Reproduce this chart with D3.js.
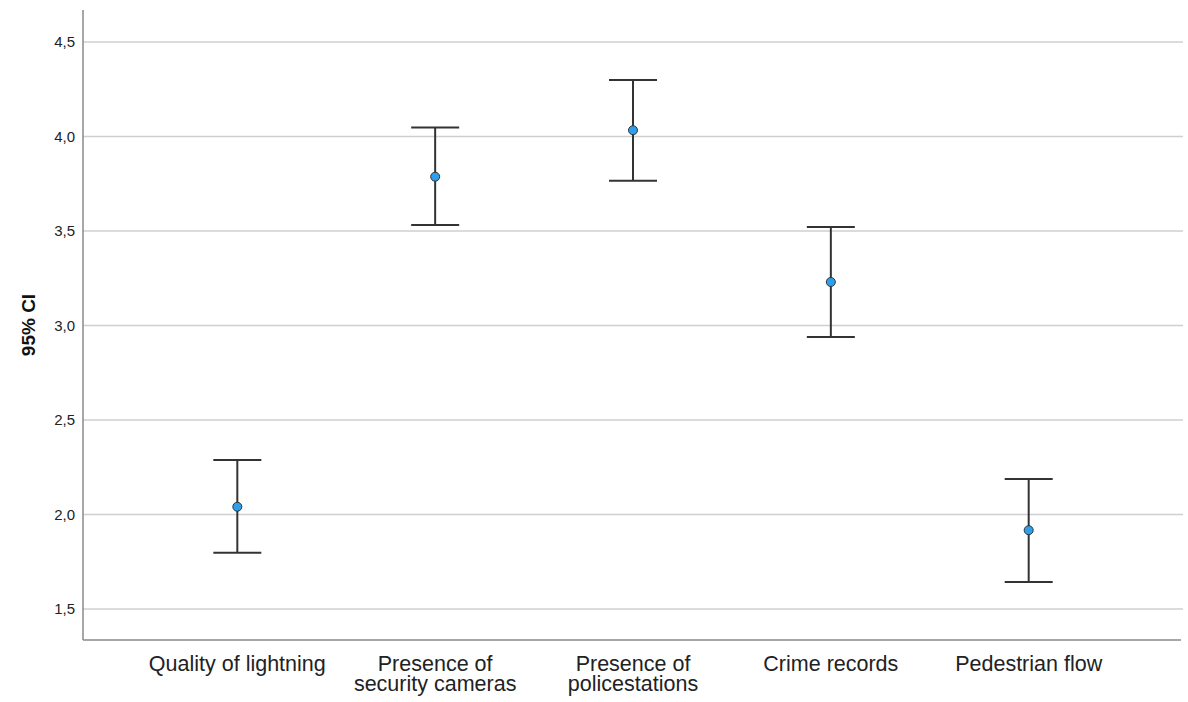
<!DOCTYPE html>
<html>
<head>
<meta charset="utf-8">
<script src="https://cdn.jsdelivr.net/npm/d3@7"></script>
<style>
  html, body { margin: 0; padding: 0; background: #fff; }
  svg { display: block; font-family: "Liberation Sans", Arial, sans-serif; }
</style>
</head>
<body>
<svg id="chart" width="1188" height="702"></svg>
<script>
// Mean ratings with 95% confidence intervals per factor
const categories = [
  ["Quality of lightning"],
  ["Presence of", "security cameras"],
  ["Presence of", "policestations"],
  ["Crime records"],
  ["Pedestrian flow"]
];
const means = [2.041, 3.787, 4.033, 3.230, 1.917];
const lower = [1.798, 3.532, 3.765, 2.939, 1.643];
const upper = [2.288, 4.047, 4.299, 3.521, 2.188];
const yTicks = [1.5, 2.0, 2.5, 3.0, 3.5, 4.0, 4.5];
const yTitle = "95% CI";

const svg = d3.select("#chart");
const plotLeft = 83, plotRight = 1183, plotTop = 10, plotBottom = 640;

const keys = categories.map((c, i) => i);
const x = d3.scalePoint().domain(keys).range([plotLeft, plotRight]).padding(0.78);
const y = d3.scaleLinear().domain([1.336, 4.669]).range([plotBottom, plotTop]);

// Horizontal gridlines
svg.append("g").selectAll("line").data(yTicks).join("line")
  .attr("x1", plotLeft).attr("x2", plotRight)
  .attr("y1", d => y(d)).attr("y2", d => y(d))
  .attr("stroke", "#cfcfcf").attr("stroke-width", 1.5);

// Y axis
const yAxis = svg.append("g").attr("transform", `translate(${plotLeft},0)`)
  .call(d3.axisLeft(y).tickValues(yTicks).tickSize(0).tickPadding(8)
    .tickFormat(d => d3.format(".1f")(d).replace(".", ",")));
yAxis.select(".domain").remove();
yAxis.selectAll("text").attr("font-size", 15).attr("fill", "#222")
  .attr("font-family", "Liberation Sans, Arial, sans-serif");

// Axis lines
svg.append("line").attr("x1", plotLeft).attr("x2", plotLeft).attr("y1", plotTop).attr("y2", plotBottom)
  .attr("stroke", "#8a8a8a").attr("stroke-width", 1.5);
svg.append("line").attr("x1", plotLeft).attr("x2", plotRight - 2).attr("y1", plotBottom).attr("y2", plotBottom)
  .attr("stroke", "#8a8a8a").attr("stroke-width", 1.5);

// X axis labels
const xl = svg.append("g").selectAll("text").data(keys).join("text")
  .attr("x", d => x(d)).attr("y", 671)
  .attr("text-anchor", "middle").attr("font-size", 21.5).attr("fill", "#222");
xl.selectAll("tspan").data(d => categories[d]).join("tspan")
  .attr("x", function() { return d3.select(this.parentNode).attr("x"); })
  .attr("dy", (d, i) => i === 0 ? 0 : 20)
  .text(d => d);

// Y title
svg.append("text")
  .attr("transform", `translate(35,${(plotTop + plotBottom) / 2}) rotate(-90)`)
  .attr("text-anchor", "middle").attr("font-size", 19).attr("font-weight", "bold")
  .attr("fill", "#111").text(yTitle);

// Error bars
const capW = 24;
const g = svg.append("g").selectAll("g").data(keys).join("g");
g.append("line").attr("x1", d => x(d)).attr("x2", d => x(d))
  .attr("y1", d => y(upper[d])).attr("y2", d => y(lower[d]))
  .attr("stroke", "#333").attr("stroke-width", 2);
g.append("line").attr("x1", d => x(d) - capW).attr("x2", d => x(d) + capW)
  .attr("y1", d => y(upper[d])).attr("y2", d => y(upper[d]))
  .attr("stroke", "#333").attr("stroke-width", 2);
g.append("line").attr("x1", d => x(d) - capW).attr("x2", d => x(d) + capW)
  .attr("y1", d => y(lower[d])).attr("y2", d => y(lower[d]))
  .attr("stroke", "#333").attr("stroke-width", 2);
g.append("circle").attr("cx", d => x(d)).attr("cy", d => y(means[d]))
  .attr("r", 4.5).attr("fill", "#2e9fec").attr("stroke", "#333").attr("stroke-width", 1);
</script>
</body>
</html>
